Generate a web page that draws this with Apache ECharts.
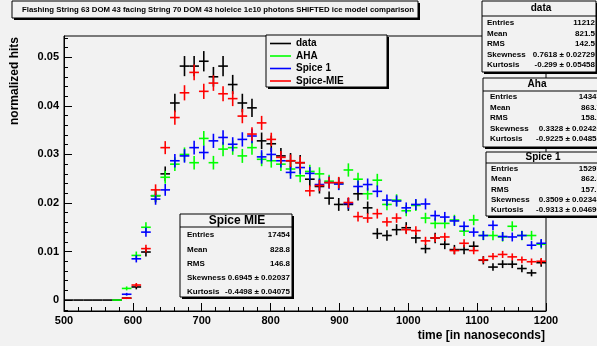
<!DOCTYPE html>
<html>
<head>
<meta charset="utf-8">
<script src="https://cdn.jsdelivr.net/npm/echarts@6/dist/echarts.min.js"></script>
<style>
html,body{margin:0;padding:0;background:#f2f2f2;}
#chart{width:597px;height:346px;}
</style>
</head>
<body>
<div id="chart"></div>
<script>
// ---- data (bin centers in ns, bin width 14 ns) ----
const binCenters = [507,521,535,549,563,577,591,605,619,633,647,661,675,689,703,717,731,745,759,773,787,801,815,829,843,857,871,885,899,913,927,941,955,969,983,997,1011,1025,1039,1053,1067,1081,1095,1109,1123,1137,1151,1165,1179,1193];
const binWidth = 14;
const seriesNames = ['data','AHA','Spice 1','Spice-MIE'];
const dataHits = [0,0,0,0,0,0,0.0004,0.0027,0.0099,0.0215,0.0260,0.0406,0.0482,0.0482,0.0492,0.0460,0.0482,0.0444,0.0406,0.0396,0.0328,0.0322,0.0297,0.0287,0.0283,0.0249,0.0234,0.0210,0.0197,0.0197,0.0219,0.0190,0.0137,0.0133,0.0145,0.0149,0.0128,0.0106,0.0128,0.0115,0.0104,0.0104,0.0111,0.0082,0.0068,0.0074,0.0074,0.0065,0.0056,0.0077];
const ahaHits = [null,null,null,null,null,0,0.0024,0.0092,0.0150,0.0215,0.0253,0.0280,0.0300,0.0283,0.0333,0.0283,0.0311,0.0314,0.0297,0.0314,0.0290,0.0287,0.0280,0.0270,0.0256,0.0265,0.0260,0.0245,0.0240,0.0268,0.0249,0.0219,0.0247,0.0197,0.0206,0.0184,0.0195,0.0169,0.0158,0.0158,0.0165,0.0142,0.0165,0.0133,0.0133,0.0130,0.0152,0.0133,0.0133,0.0115];
const spice1Hits = [null,null,null,null,null,null,0.0012,0.0085,0.0140,0.0208,0.0227,0.0287,0.0297,0.0314,0.0304,0.0328,0.0335,0.0321,0.0331,0.0338,0.0295,0.0300,0.0287,0.0263,0.0273,0.0261,0.0238,0.0242,0.0239,0.0199,0.0234,0.0238,0.0224,0.0206,0.0204,0.0190,0.0197,0.0198,0.0174,0.0171,0.0163,0.0152,0.0140,0.0133,0.0154,0.0131,0.0130,0.0133,0.0113,0.0117];
const spiceMieHits = [null,null,null,null,null,null,0.0004,0.0031,0.0106,0.0227,0.0314,0.0376,0.0427,0.0469,0.0430,0.0447,0.0425,0.0415,0.0379,0.0342,0.0365,0.0331,0.0294,0.0287,0.0283,0.0225,0.0236,0.0242,0.0242,0.0201,0.0172,0.0169,0.0178,0.0161,0.0169,0.0145,0.0143,0.0122,0.0128,0.0130,0.0102,0.0117,0.0102,0.0083,0.0090,0.0094,0.0089,0.0083,0.0079,0.0080];
// entries of each histogram (from the stats boxes); errors = sqrt(content/entries)
const entries = [11212,14347,15297,17454];
const yTickValues = [0,0.01,0.02,0.03,0.04,0.05];
const yTickLabels = ['0','0.01','0.02','0.03','0.04','0.05'];
const xTitle = 'time [in nanoseconds]';
const yTitle = 'normalized hits';
const chartTitle = 'Flashing String 63 DOM 43 facing String 70 DOM 43 holeice 1e10 photons SHIFTED ice model comparison';
const statsData = {title:'data', rows:[['Entries','11212'],['Mean','821.5'],['RMS','142.5'],['Skewness','0.7618 \u00b1 0.02729'],['Kurtosis','-0.299 \u00b1 0.05458']]};
const statsAha = {title:'Aha', rows:[['Entries','14347'],['Mean','863.7'],['RMS','158.2'],['Skewness','0.3328 \u00b1 0.02426'],['Kurtosis','-0.9225 \u00b1 0.04853']]};
const statsSpice1 = {title:'Spice 1', rows:[['Entries','15297'],['Mean','862.5'],['RMS','157.1'],['Skewness','0.3509 \u00b1 0.02345'],['Kurtosis','-0.9313 \u00b1 0.04690']]};
const statsMie = {title:'Spice MIE', rows:[['Entries','17454'],['Mean','828.8'],['RMS','146.8'],['Skewness','0.6945 \u00b1 0.02037'],['Kurtosis','-0.4498 \u00b1 0.04075']]};

// ---- styling ----
const colors = ['#000000','#00ff00','#0000ff','#ff0000'];
const FONT = '"Liberation Sans", Arial, Helvetica, sans-serif';
const BG = '#f2f2f2';
const yMin = -0.00225, yMax = 0.0544;

const allHits = [dataHits, ahaHits, spice1Hits, spiceMieHits];

function buildSeriesData(values, n) {
  const out = [];
  for (let i = 0; i < binCenters.length; i++) {
    const v = values[i];
    if (v === null || v === undefined) continue;
    out.push([binCenters[i], v, Math.sqrt(v / n)]);
  }
  return out;
}

function makeRender(color) {
  return function (params, api) {
    const x = api.value(0), y = api.value(1), e = api.value(2);
    const c = api.coord([x, y]);
    const l = api.coord([x - binWidth / 2, y]);
    const r = api.coord([x + binWidth / 2, y]);
    const t = api.coord([x, y + e]);
    const b = api.coord([x, y - e]);
    const st = {stroke: color, lineWidth: 1.6};
    const children = [{type:'line', shape:{x1:l[0], y1:c[1], x2:r[0], y2:c[1]}, style:st}];
    if (e > 0) children.push({type:'line', shape:{x1:c[0], y1:t[1], x2:c[0], y2:b[1]}, style:st});
    return {type:'group', children: children};
  };
}

const series = allHits.map((vals, k) => ({
  type: 'custom',
  name: seriesNames[k],
  xAxisIndex: 0,
  yAxisIndex: 0,
  clip: true,
  renderItem: makeRender(colors[k]),
  encode: {x: 0, y: 1},
  data: buildSeriesData(vals, entries[k]),
  z: 2 + k
}));

const yMinor = [];
for (let v = -0.002; v <= yMax + 1e-9; v += 0.002) {
  const r = Math.round(v * 1000) / 1000;
  if (Math.abs(r * 100 - Math.round(r * 100)) > 1e-6) yMinor.push(r);
}

// ---- graphic helpers ----
function boxWithShadow(x, y, w, h, z) {
  return [
    {type:'rect', shape:{x:x+2, y:y+2, width:w, height:h}, style:{fill:'#000'}, z:z, silent:true},
    {type:'rect', shape:{x:x, y:y, width:w, height:h}, style:{fill:BG, stroke:'#000', lineWidth:1}, z:z, silent:true}
  ];
}
function txt(x, y, text, size, align, z, extra) {
  return Object.assign({type:'text', x:x, y:y, z:z, silent:true,
    style:{text:text, fontFamily:FONT, fontWeight:'bold', fontSize:size, fill:'#000', align:align, verticalAlign:'middle'}}, extra || {});
}
function statsBox(st, bx, by, bw, bh, headerLine, headerX, headerY, headerSize, rowYs, labelX, valueX, rowSize) {
  const z = 50;
  const els = boxWithShadow(bx, by, bw, bh, z);
  els.push({type:'line', shape:{x1:bx, y1:headerLine, x2:bx+bw, y2:headerLine}, style:{stroke:'#000', lineWidth:1}, z:z, silent:true});
  els.push(txt(headerX, headerY, st.title, headerSize, 'center', z));
  st.rows.forEach((row, i) => {
    els.push(txt(labelX, rowYs[i], row[0], rowSize, 'left', z));
    els.push(txt(valueX, rowYs[i], row[1], rowSize, 'right', z));
  });
  return els;
}

const graphics = [];
// title
graphics.push(...boxWithShadow(12, 1, 406, 17, 40));
graphics.push(txt(22, 9.5, chartTitle, 7.8, 'left', 40));
// legend
graphics.push(...boxWithShadow(266, 35, 121, 52, 45));
const legendYs = [43.5, 56, 68.5, 81];
seriesNames.forEach((n, k) => {
  graphics.push({type:'line', shape:{x1:270, y1:legendYs[k], x2:291, y2:legendYs[k]}, style:{stroke:colors[k], lineWidth:1.6}, z:45, silent:true});
  graphics.push(txt(296, legendYs[k], n, 10, 'left', 45));
});
// stats boxes
graphics.push(...statsBox(statsData, 482, 1, 114, 71, 16, 541, 8.5, 10, [22.5,33.3,43.8,54.3,64.8], 487, 595, 8));
graphics.push(...statsBox(statsAha, 483, 78, 125, 69, 91, 537, 84.5, 10, [97,107.5,118,128.3,138.5], 490, 601, 8));
graphics.push(...statsBox(statsSpice1, 486, 152, 125, 64, 163, 543, 157.5, 10, [168.8,178.9,189.5,200,210], 491, 601, 8));
graphics.push(...statsBox(statsMie, 180, 214, 112, 83, 227, 237, 220.5, 12, [235,249.3,263.3,277.7,291.5], 187, 290, 8));
// axis titles
graphics.push(txt(545, 336, xTitle, 12, 'right', 30));
graphics.push(txt(15, 37, yTitle, 12, 'right', 30, {rotation: Math.PI / 2}));

const option = {
  backgroundColor: BG,
  animation: false,
  grid: {left: 64, right: 51, top: 36, bottom: 35, show: true, borderColor: '#000', borderWidth: 1, backgroundColor: BG},
  xAxis: {
    type: 'value', min: 500, max: 1200, interval: 100,
    axisLine: {show: true, onZero: false, lineStyle: {color: '#000', width: 1}},
    axisTick: {show: true, inside: true, length: 8, lineStyle: {color: '#000'}},
    minorTick: {show: true, splitNumber: 5, length: 4, lineStyle: {color: '#000'}},
    splitLine: {show: false},
    axisLabel: {color: '#000', fontFamily: FONT, fontWeight: 'bold', fontSize: 11, margin: 4,
      formatter: function (v) { return String(v); }}
  },
  yAxis: [{
    type: 'value', min: yMin, max: yMax,
    axisLine: {show: true, lineStyle: {color: '#000', width: 1}},
    axisTick: {show: true, inside: true, length: 8, customValues: yTickValues, lineStyle: {color: '#000'}},
    splitLine: {show: false},
    axisLabel: {show: true, customValues: yTickValues, color: '#000', fontFamily: FONT, fontWeight: 'bold', fontSize: 11, margin: 5,
      formatter: function (v) { const i = yTickValues.findIndex(t => Math.abs(t - v) < 1e-9); return i >= 0 ? yTickLabels[i] : ''; }}
  }, {
    type: 'value', min: yMin, max: yMax, position: 'left',
    axisLine: {show: false},
    axisTick: {show: true, inside: true, length: 4, customValues: yMinor, lineStyle: {color: '#000'}},
    axisLabel: {show: false},
    splitLine: {show: false}
  }],
  series: series,
  graphic: {elements: graphics}
};

const chart = echarts.init(document.getElementById('chart'), null, {renderer: 'canvas'});
chart.setOption(option);
</script>
</body>
</html>
